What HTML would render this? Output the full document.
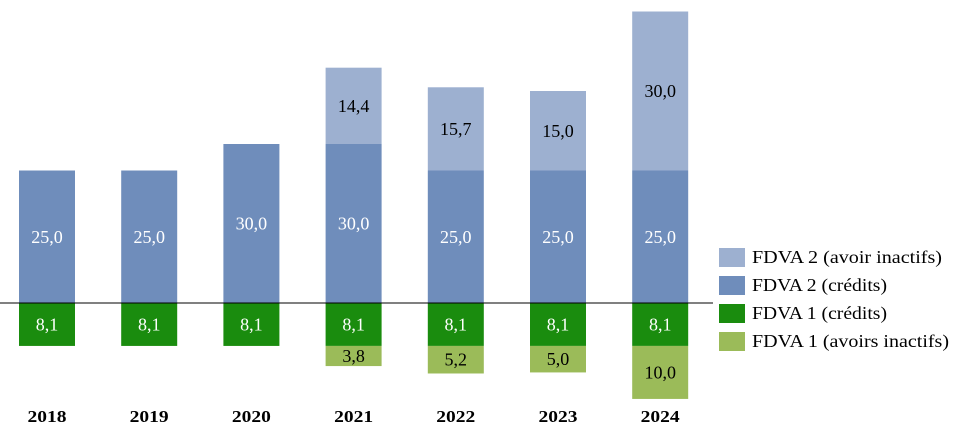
<!DOCTYPE html>
<html><head><meta charset="utf-8"><style>
body{margin:0;background:#fff}
svg{display:block;font-family:"Liberation Serif",serif}
</style></head><body>
<svg id="chart" width="954" height="440" viewBox="0 0 954 440"></svg>
<script>
const years=["2018","2019","2020","2021","2022","2023","2024"];
const fdva2Credits=[25.0,25.0,30.0,30.0,25.0,25.0,25.0];
const fdva2Avoirs=[0,0,0,14.4,15.7,15.0,30.0];
const fdva1Credits=[8.1,8.1,8.1,8.1,8.1,8.1,8.1];
const fdva1Avoirs=[0,0,0,3.8,5.2,5.0,10.0];
const legendLabels=["FDVA 2 (avoir inactifs)","FDVA 2 (crédits)","FDVA 1 (crédits)","FDVA 1 (avoirs inactifs)"];
const colors=["#9DB0D0","#6F8DBB","#1A8C0E","#9BBB59"];
const NS="http://www.w3.org/2000/svg";
const svg=document.getElementById("chart");
const base=303, k=5.3;
const y=v=>base-v*k;
const xc=i=>47+i*102.2;
const bw=56;
function el(t,a){const e=document.createElementNS(NS,t);for(const n in a)e.setAttribute(n,a[n]);svg.appendChild(e);return e;}
function fmt(v){return Math.abs(v).toFixed(1).replace(".",",");}
function bar(i,v0,v1,col,txtCol,name){
  if(!v1)return;
  const ya=y(v0),yb=y(v0+v1);
  const r=el("rect",{x:xc(i)-bw/2,y:Math.min(ya,yb),width:bw,height:Math.abs(ya-yb),fill:col});
  
  
  const t=el("text",{x:xc(i),y:(ya+yb)/2+6,"text-anchor":"middle","font-size":"18",fill:txtCol});
  t.textContent=fmt(v1);
  
  
}
years.forEach((yr,i)=>{
  bar(i,0,fdva2Credits[i],colors[1],"#fff","bar-fdva2-credits");
  bar(i,fdva2Credits[i],fdva2Avoirs[i],colors[0],"#000","bar-fdva2-avoirs");
  bar(i,0,-fdva1Credits[i],colors[2],"#fff","bar-fdva1-credits");
  bar(i,-fdva1Credits[i],-fdva1Avoirs[i],colors[3],"#000","bar-fdva1-avoirs");
  const t=el("text",{x:xc(i),y:422,"text-anchor":"middle","font-size":"17","font-weight":"bold",fill:"#000",textLength:"39",lengthAdjust:"spacingAndGlyphs"});
  t.textContent=yr;
  
  
});
const ax=el("line",{x1:0,y1:base,x2:713,y2:base,stroke:"#000","stroke-width":1});


const legendWidths=[190,135,135,197];
legendLabels.forEach((l,i)=>{
  const yy=248+i*28;
  const r=el("rect",{x:719,y:yy,width:26,height:19,fill:colors[i]});
  
  
  const t=el("text",{x:752,y:yy+15,"font-size":"18",fill:"#000",textLength:legendWidths[i],lengthAdjust:"spacingAndGlyphs"});
  t.textContent=l;
  
  
});
</script>
</body></html>
